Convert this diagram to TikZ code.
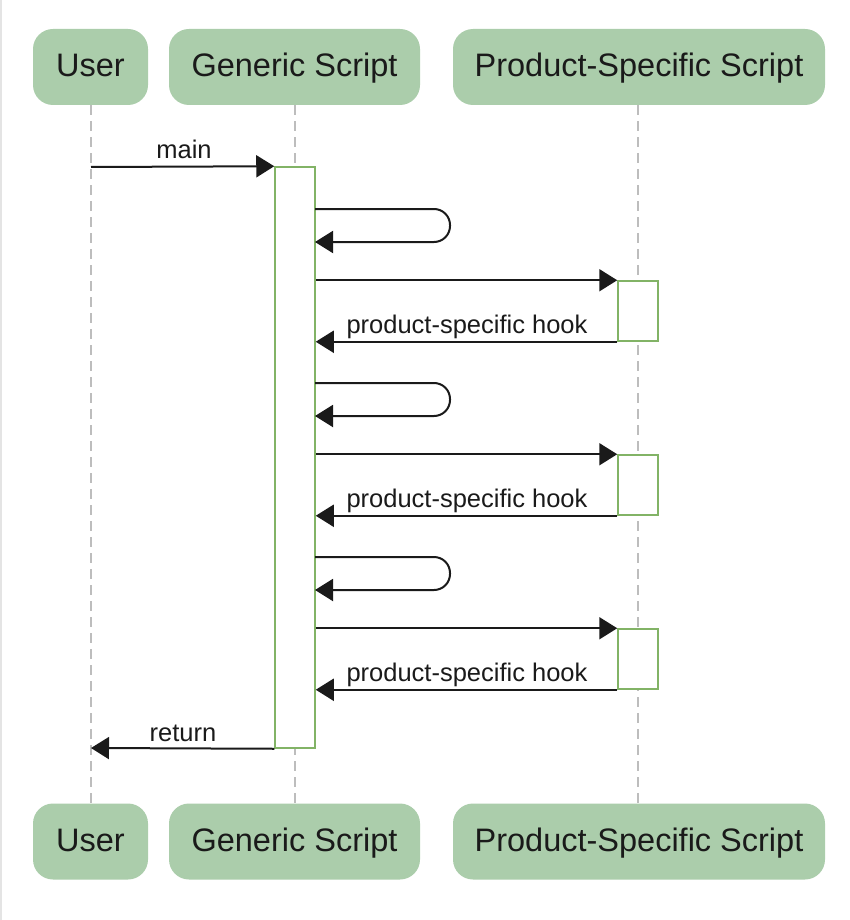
\documentclass[tikz,border=0pt]{standalone}
\usepackage{fontspec}
\setmainfont{Liberation Sans}
\usetikzlibrary{arrows.meta}
\definecolor{hdrfill}{HTML}{ABCDAB}
\definecolor{actline}{HTML}{82B366}
\definecolor{lifeline}{HTML}{BDBDBD}
\definecolor{ink}{HTML}{1A1A1A}
\definecolor{edgegray}{HTML}{E4E4E4}
\tikzset{
  hdr/.style={draw=none, fill=hdrfill, rounded corners=20pt, minimum height=76pt,
    text height=26pt, text depth=6pt, inner xsep=0pt, font=\fontsize{32.5}{39}\selectfont, text=ink},
  life/.style={draw=lifeline, line width=1.4pt, dash pattern=on 10pt off 6pt},
  act/.style={draw=actline, fill=white, line width=1.5pt, minimum width=40pt, inner sep=0pt},
  msg/.style={draw=ink, line width=2pt, -{Triangle[length=18pt,width=22pt]}},
  lbl/.style={font=\fontsize{25.5}{30}\selectfont, text=ink, anchor=base, inner sep=0pt},
}
\begin{document}
\begin{tikzpicture}[x=1pt,y=-1pt]
\useasboundingbox (0,0) rectangle (850,920);
\fill[edgegray] (0,0) rectangle (2,920);
% headers
\node[hdr, minimum width=115pt] (uT) at (90.5,67) {User};
\node[hdr, minimum width=251pt] (gT) at (294.5,67) {Generic Script};
\node[hdr, minimum width=372pt] (pT) at (639,67) {Product-Specific Script};
\node[hdr, minimum width=115pt] (uB) at (90.5,841.5) {User};
\node[hdr, minimum width=251pt] (gB) at (294.5,841.5) {Generic Script};
\node[hdr, minimum width=372pt] (pB) at (639,841.5) {Product-Specific Script};
% lifelines
\draw[life] (uT.south -| 91,0) -- (uB.north -| 91,0);
\draw[life] (gT.south -| 295,0) -- (gB.north -| 295,0);
\draw[life] (pT.south -| 638,0) -- (pB.north -| 638,0);
% activations
\node[act, minimum height=581pt] (ga) at (295,457.5) {};
\node[act, minimum height=60pt] (pa1) at (638,311) {};
\node[act, minimum height=60pt] (pa2) at (638,485) {};
\node[act, minimum height=60pt] (pa3) at (638,659) {};
% coordinates
\coordinate (uMain) at (91,167);
\coordinate (uRet) at (91,748);
% main
\draw[msg] (uMain) -- (ga.north west);
\node[lbl] (lmain) at (184,159) {main};
% self loops and hooks
\foreach \i/\y in {1/209, 2/383, 3/557} {
  \coordinate (ls\i) at (315,\y);
  \coordinate (le\i) at (315,\y+33);
  \draw[msg, rounded corners=16pt] (ls\i) -- (450,\y) -- (450,\y+33) -- (le\i);
}
\draw[msg] (ga.east |- pa1.north west) -- (pa1.north west);
\draw[msg] (pa1.south west) -- (ga.east |- pa1.south west);
\node[lbl] (h1) at (467,333) {product-specific hook};
\draw[msg] (ga.east |- pa2.north west) -- (pa2.north west);
\draw[msg] (pa2.south west) -- (ga.east |- pa2.south west);
\node[lbl] (h2) at (467,507) {product-specific hook};
\draw[msg] (ga.east |- pa3.north west) -- (pa3.north west);
\draw[msg] (pa3.south west) -- (ga.east |- pa3.south west);
\node[lbl] (h3) at (467,681) {product-specific hook};
% return
\draw[msg] (ga.south west) -- (uRet);
\node[lbl] (lret) at (183,741) {return};
\end{tikzpicture}
\end{document}
